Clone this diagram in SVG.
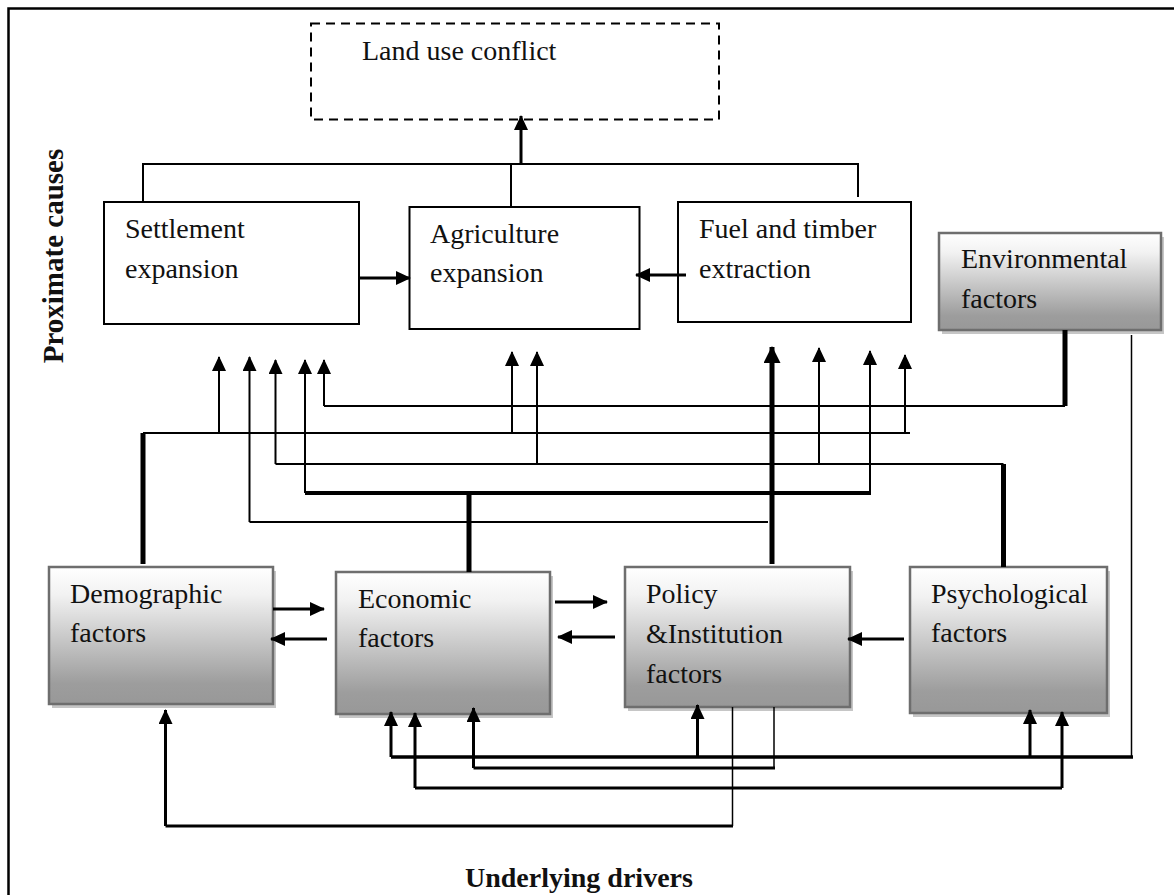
<svg xmlns="http://www.w3.org/2000/svg" width="1174" height="895" viewBox="0 0 1174 895">
  <style>
    .lbl { font-family: "Liberation Serif", "Times New Roman", serif; font-size: 28px; fill: #111; }
    .title { font-family: "Liberation Serif", "Times New Roman", serif; font-size: 28px; font-weight: bold; fill: #111; }
    .plain { fill: #fff; stroke: #000; stroke-width: 2; }
    .shade { fill: url(#boxGrad); stroke: #6e6e6e; stroke-width: 2.5; }
    .shadow { fill: #c6c6c6; }
    .ln { fill: none; stroke: #000; stroke-width: 2; stroke-linecap: butt; }
    .thin { fill: none; stroke: #000; stroke-width: 1.5; }
    .mid { fill: none; stroke: #000; stroke-width: 3; }
    .bold { fill: none; stroke: #000; stroke-width: 5; }
    .arr { marker-end: url(#head); }
    .arrL { marker-end: url(#headL); }
  </style>
  <defs>
    <linearGradient id="boxGrad" x1="0" y1="0" x2="0" y2="1">
      <stop offset="0" stop-color="#ffffff"/>
      <stop offset="0.2" stop-color="#f2f2f2"/>
      <stop offset="0.85" stop-color="#9d9d9d"/>
      <stop offset="1" stop-color="#989898"/>
    </linearGradient>
    <marker id="head" markerUnits="userSpaceOnUse" markerWidth="15" markerHeight="14" refX="14" refY="7" orient="auto">
      <path d="M0,0 L15,7 L0,14 z" fill="#000"/>
    </marker>
    <marker id="headL" markerUnits="userSpaceOnUse" markerWidth="17" markerHeight="17" refX="16" refY="8.5" orient="auto">
      <path d="M0,0 L17,8.5 L0,17 z" fill="#000"/>
    </marker>
  </defs>

  <rect width="1174" height="895" fill="#fff"/>
  <!-- outer frame, open on the right and bottom -->
  <rect x="8.5" y="8.5" width="1200" height="920" fill="none" stroke="#000" stroke-width="2.5"/>

  <!-- side and bottom headings -->
  <text class="title" transform="translate(63,256) rotate(-90)" text-anchor="middle" style="font-size:29px">Proximate causes</text>
  <text class="title" x="465" y="887">Underlying drivers</text>

  <!-- outcome -->
  <g id="land-use-conflict">
    <rect x="311" y="23.5" width="408" height="96" fill="#fff" stroke="#000" stroke-width="2" stroke-dasharray="9 6"/>
    <text class="lbl" x="362" y="60">Land use conflict</text>
  </g>

  <!-- proximate causes -->
  <g id="settlement-expansion">
    <rect class="plain" x="104" y="202" width="255" height="122"/>
    <text class="lbl" x="125" y="238">Settlement</text>
    <text class="lbl" x="125" y="278">expansion</text>
  </g>
  <g id="agriculture-expansion">
    <rect class="plain" x="409.5" y="207" width="230" height="122"/>
    <text class="lbl" x="430" y="243">Agriculture</text>
    <text class="lbl" x="430" y="282">expansion</text>
  </g>
  <g id="fuel-timber-extraction">
    <rect class="plain" x="678" y="202" width="233" height="120"/>
    <text class="lbl" x="699" y="238">Fuel and timber</text>
    <text class="lbl" x="699" y="278">extraction</text>
  </g>

  <!-- underlying drivers -->
  <g id="environmental-factors">
    <rect class="shadow" x="942" y="237" width="222" height="97"/>
    <rect class="shade" x="939" y="233" width="222" height="97"/>
    <text class="lbl" x="961" y="268">Environmental</text>
    <text class="lbl" x="961" y="308">factors</text>
  </g>
  <g id="demographic-factors">
    <rect class="shadow" x="52" y="571" width="224" height="137"/>
    <rect class="shade" x="49" y="567" width="224" height="137"/>
    <text class="lbl" x="70" y="603">Demographic</text>
    <text class="lbl" x="70" y="642">factors</text>
  </g>
  <g id="economic-factors">
    <rect class="shadow" x="339" y="576" width="214" height="142"/>
    <rect class="shade" x="336" y="572" width="214" height="142"/>
    <text class="lbl" x="358" y="608">Economic</text>
    <text class="lbl" x="358" y="647">factors</text>
  </g>
  <g id="policy-institution-factors">
    <rect class="shadow" x="628" y="571" width="225" height="140"/>
    <rect class="shade" x="625" y="567" width="225" height="140"/>
    <text class="lbl" x="646" y="603">Policy</text>
    <text class="lbl" x="646" y="643">&amp;Institution</text>
    <text class="lbl" x="646" y="683">factors</text>
  </g>
  <g id="psychological-factors">
    <rect class="shadow" x="913" y="571" width="197" height="146"/>
    <rect class="shade" x="910" y="567" width="197" height="146"/>
    <text class="lbl" x="931" y="603">Psychological</text>
    <text class="lbl" x="931" y="642">factors</text>
  </g>

  <g id="connectors">
    <!-- proximate causes to land use conflict -->
    <polyline class="ln" points="143,202 143,164 858,164 858,197"/>
    <line class="ln" x1="511" y1="164" x2="511" y2="207"/>
    <line class="mid arr" x1="521" y1="164" x2="521" y2="116"/>
    <line class="mid arr" x1="359" y1="278" x2="410" y2="278"/>
    <line class="mid arr" x1="686" y1="275" x2="636" y2="275"/>

    <!-- environmental bus -->
    <polyline class="bold" points="1065,330 1065,406"/>
    <polyline class="ln" points="1065,406 324,406"/>
    <line class="ln arr" x1="324" y1="406" x2="324" y2="360"/>

    <!-- demographic bus -->
    <polyline class="bold" points="143,564 143,433"/>
    <line class="ln" x1="143" y1="433" x2="910" y2="433"/>
    <line class="ln arr" x1="219" y1="433" x2="219" y2="357"/>
    <line class="ln arr" x1="512" y1="433" x2="512" y2="352"/>
    <line class="ln arr" x1="905" y1="433" x2="905" y2="355"/>

    <!-- psychological bus -->
    <polyline class="bold" points="1003.5,567 1003.5,464"/>
    <line class="ln" x1="1003.5" y1="464" x2="275.5" y2="464"/>
    <line class="ln arr" x1="275.5" y1="464" x2="275.5" y2="360"/>
    <line class="ln arr" x1="537" y1="464" x2="537" y2="352"/>
    <line class="ln arr" x1="819" y1="464" x2="819" y2="348"/>

    <!-- economic bus -->
    <polyline class="bold" points="469,572 469,493"/>
    <line x1="305" y1="493" x2="871" y2="493" fill="none" stroke="#000" stroke-width="4"/>
    <line class="ln arr" x1="305" y1="493" x2="305" y2="360"/>
    <line class="ln arr" x1="870" y1="493" x2="870" y2="351"/>

    <!-- policy bus -->
    <line class="ln" x1="768" y1="522" x2="249.5" y2="522"/>
    <line class="ln arr" x1="249.5" y1="522" x2="249.5" y2="357"/>
    <line class="bold arrL" x1="772" y1="564" x2="772" y2="347"/>

    <!-- links between underlying drivers -->
    <line class="mid arr" x1="273" y1="609" x2="324" y2="609"/>
    <line class="mid arr" x1="327" y1="639" x2="271" y2="639"/>
    <line class="mid arr" x1="555" y1="602" x2="607" y2="602"/>
    <line class="mid arr" x1="615" y1="637" x2="558" y2="637"/>
    <line class="mid arr" x1="904" y1="639" x2="848" y2="639"/>

    <!-- environmental feed to the lower drivers -->
    <line class="thin" x1="1131.5" y1="335" x2="1131.5" y2="757"/>
    <line x1="1133" y1="757" x2="391" y2="757" fill="none" stroke="#000" stroke-width="3.5"/>
    <line class="mid arr" x1="391" y1="757" x2="391" y2="712"/>
    <line class="mid arr" x1="697.5" y1="757" x2="697.5" y2="705"/>
    <line class="mid arr" x1="1030" y1="757" x2="1030" y2="710"/>

    <!-- policy to economic -->
    <polyline class="thin" points="774,707 774,768"/>
    <line class="mid" x1="775" y1="768" x2="473.5" y2="768"/>
    <line class="mid arr" x1="473.5" y1="768" x2="473.5" y2="708"/>

    <!-- economic and psychological -->
    <line class="mid" x1="415" y1="788" x2="1062" y2="788"/>
    <line class="mid arr" x1="415" y1="788" x2="415" y2="713"/>
    <line class="mid arr" x1="1062" y1="788" x2="1062" y2="712"/>

    <!-- policy to demographic -->
    <polyline class="thin" points="732.5,707 732.5,826"/>
    <line class="mid" x1="733" y1="826" x2="165.5" y2="826"/>
    <line class="mid arr" x1="165.5" y1="826" x2="165.5" y2="710"/>
  </g>
</svg>
